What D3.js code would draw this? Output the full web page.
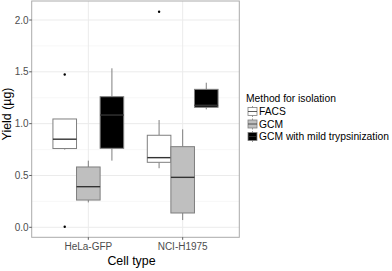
<!DOCTYPE html>
<html>
<head>
<meta charset="utf-8">
<script src="https://cdn.jsdelivr.net/npm/d3@7"></script>
<style>
	body { margin: 0; background: #fff; }
	text { font-family: "Liberation Sans", Arial, sans-serif; }
</style>
</head>
<body>
<svg id="chart" width="392" height="271"></svg>
<script>
// data
var cellTypes = ["HeLa-GFP", "NCI-H1975"];
var methods = ["FACS", "GCM", "GCM with mild trypsinization"];
var methodFills = ["#ffffff", "#bfbfbf", "#000000"];
var yTicks = [0.0, 0.5, 1.0, 1.5, 2.0];

// [lowerWhisker, q1, median, q3, upperWhisker] per cell type, per method
var facsStats = [[0.75, 0.76, 0.85, 1.045, 1.045], [0.57, 0.627, 0.672, 0.888, 1.035]];
var gcmStats = [[0.24, 0.263, 0.392, 0.582, 0.643], [0.07, 0.138, 0.482, 0.778, 0.945]];
var trypStats = [[0.643, 0.762, 1.083, 1.26, 1.534], [1.138, 1.158, 1.177, 1.331, 1.395]];
var facsOutliers = [[1.474, 0.006], [2.08]];
var gcmOutliers = [[], []];
var trypOutliers = [[], []];

var allStats = [facsStats, gcmStats, trypStats];
var allOutliers = [facsOutliers, gcmOutliers, trypOutliers];

var svg = d3.select("#chart");
var pLeft = 31.7, pRight = 239.3, pTop = 1, pBottom = 237.3;

var y = d3.scaleLinear().domain([0, 2]).range([227.3, 20]);
var dodge = d3.scaleBand().domain(methods).paddingInner(0).paddingOuter(0);

var unit = (pRight - pLeft) / 2.2;
function catCenter(c) { return pLeft + unit * (0.6 + cellTypes.indexOf(c)); }
dodge.range([-0.375 * unit, 0.375 * unit]);

// panel background + grid
svg.append("rect").attr("x", pLeft).attr("y", pTop).attr("width", pRight - pLeft).attr("height", pBottom - pTop).attr("fill", "#fff");

var minor = [0.25, 0.75, 1.25, 1.75];
svg.selectAll(".ymin").data(minor).enter().append("line")
	.attr("x1", pLeft).attr("x2", pRight)
	.attr("y1", function (d) { return y(d); }).attr("y2", function (d) { return y(d); })
	.attr("stroke", "#f2f2f2").attr("stroke-width", 0.6);
svg.selectAll(".ymaj").data(yTicks).enter().append("line")
	.attr("x1", pLeft).attr("x2", pRight)
	.attr("y1", function (d) { return y(d); }).attr("y2", function (d) { return y(d); })
	.attr("stroke", "#ebebeb").attr("stroke-width", 1);
svg.selectAll(".xmaj").data(cellTypes).enter().append("line")
	.attr("y1", pTop).attr("y2", pBottom)
	.attr("x1", catCenter).attr("x2", catCenter)
	.attr("stroke", "#ebebeb").attr("stroke-width", 1);

// boxes
methods.forEach(function (m, mi) {
	cellTypes.forEach(function (c, ci) {
		var s = allStats[mi][ci];
		var x0 = catCenter(c) + dodge(m);
		var w = dodge.bandwidth();
		var cx = x0 + w / 2;
		var g = svg.append("g");
		g.append("line").attr("x1", cx).attr("x2", cx).attr("y1", y(s[3])).attr("y2", y(s[4]))
			.attr("stroke", "#7f7f7f").attr("stroke-width", 1);
		g.append("line").attr("x1", cx).attr("x2", cx).attr("y1", y(s[1])).attr("y2", y(s[0]))
			.attr("stroke", "#7f7f7f").attr("stroke-width", 1);
		g.append("rect").attr("x", x0).attr("width", w)
			.attr("y", y(s[3])).attr("height", y(s[1]) - y(s[3]))
			.attr("fill", methodFills[mi]).attr("stroke", "#7f7f7f").attr("stroke-width", 1);
		g.append("line").attr("x1", x0).attr("x2", x0 + w).attr("y1", y(s[2])).attr("y2", y(s[2]))
			.attr("stroke", "#333333").attr("stroke-width", 1.4);
		g.selectAll("circle").data(allOutliers[mi][ci]).enter().append("circle")
			.attr("cx", cx).attr("cy", function (d) { return y(d); }).attr("r", 1.2).attr("fill", "#000");
	});
});

// panel border
svg.append("rect").attr("x", pLeft).attr("y", pTop).attr("width", pRight - pLeft).attr("height", pBottom - pTop)
	.attr("fill", "none").attr("stroke", "#ababab").attr("stroke-width", 1);

// y axis
var yAxis = svg.append("g");
yAxis.selectAll("line").data(yTicks).enter().append("line")
	.attr("x1", pLeft - 2.5).attr("x2", pLeft)
	.attr("y1", function (d) { return y(d); }).attr("y2", function (d) { return y(d); })
	.attr("stroke", "#333").attr("stroke-width", 0.8);
yAxis.selectAll("text").data(yTicks).enter().append("text")
	.attr("x", pLeft - 3).attr("y", function (d) { return y(d); }).attr("dy", "0.35em")
	.attr("text-anchor", "end").attr("font-size", 10).attr("fill", "#4d4d4d")
	.text(d3.format(".1f"));

// x axis
var xAxis = svg.append("g");
xAxis.selectAll("line").data(cellTypes).enter().append("line")
	.attr("x1", catCenter).attr("x2", catCenter)
	.attr("y1", pBottom).attr("y2", pBottom + 2.5)
	.attr("stroke", "#333").attr("stroke-width", 0.8);
xAxis.selectAll("text").data(cellTypes).enter().append("text")
	.attr("x", catCenter).attr("y", pBottom + 12.5)
	.attr("text-anchor", "middle").attr("font-size", 10).attr("fill", "#4d4d4d")
	.text(function (d) { return d; });

// axis titles
svg.append("text").attr("x", 131.5).attr("y", 265)
	.attr("text-anchor", "middle").attr("font-size", 12.4).attr("fill", "#000").text("Cell type");
svg.append("text").attr("transform", "translate(11,114) rotate(-90)")
	.attr("text-anchor", "middle").attr("font-size", 12.4).attr("fill", "#000").text("Yield (µg)");

// legend
var lg = svg.append("g").attr("transform", "translate(246,0)");
lg.append("text").attr("x", 0).attr("y", 102).attr("font-size", 10.3).attr("fill", "#000").text("Method for isolation");
methods.forEach(function (m, i) {
	var ky = 111.5 + i * 12.5;
	var k = lg.append("g");
	k.append("line").attr("x1", 6.5).attr("x2", 6.5).attr("y1", ky - 5.5).attr("y2", ky + 5.5)
		.attr("stroke", "#7f7f7f").attr("stroke-width", 0.8);
	k.append("rect").attr("x", 2).attr("y", ky - 4).attr("width", 9).attr("height", 8)
		.attr("fill", methodFills[i]).attr("stroke", "#7f7f7f").attr("stroke-width", 0.8);
	k.append("line").attr("x1", 2).attr("x2", 11).attr("y1", ky).attr("y2", ky)
		.attr("stroke", "#333").attr("stroke-width", 0.8);
	lg.append("text").attr("x", 13).attr("y", ky).attr("dy", "0.36em")
		.attr("font-size", 10.3).attr("fill", "#000").text(m);
});
</script>
</body>
</html>
